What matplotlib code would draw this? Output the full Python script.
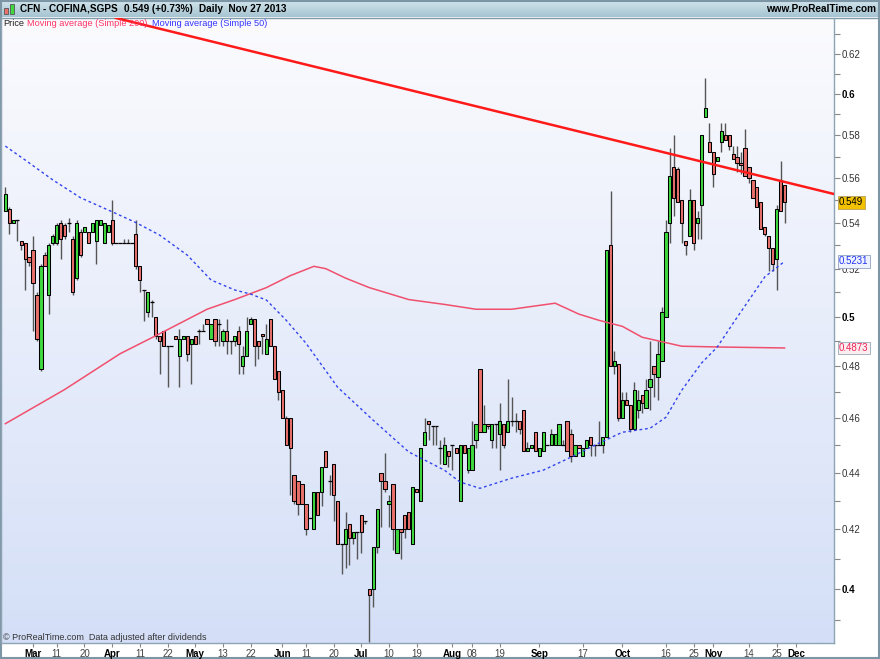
import numpy as np
import pandas as pd
import matplotlib
matplotlib.use("Agg")
import matplotlib.pyplot as plt
from matplotlib.patches import Rectangle
from matplotlib.lines import Line2D
from matplotlib.colors import LinearSegmentedColormap
from matplotlib.ticker import FixedLocator, FixedFormatter, NullFormatter

plt.rcParams["font.family"] = ["Liberation Sans", "DejaVu Sans"]

# daily candles, one per trading day from 20 Feb 2013 to 27 Nov 2013
opens = [
    .545, .546, .540, .541, .532, .531, .525, .528, .509, .479,
    .526, .509, .531, .531, .540, .539, .540, .533, .516, .536,
    .536, .536, .536, .532, .539, .531, .536, .541, .531, .531,
    .531, .531, .531, .535, .521, .511, .502, .506, .500, .492,
    .494, .488, .488, .492, .484, .491, .492, .489, .492, .494,
    .494, .499, .491, .499, .497, .490, .494, .490, .490, .494,
    .480, .484, .497, .499, .490, .493, .485, .499, .488, .478,
    .471, .460, .460, .439, .437, .436, .429, .424, .420, .433,
    .433, .448, .437, .443, .430, .415, .415, .422, .417, .419,
    .425, .423, .400, .400, .414, .440, .437, .429, .436, .412,
    .420, .425, .426, .415, .434, .430, .450, .459, .457, .457,
    .449, .443, .448, .450, .449, .430, .450, .441, .441, .452,
    .479, .455, .458, .452, .458, .454, .458, .455, .459, .459,
    .459, .463, .448, .449, .455, .446, .448, .450, .450, .450,
    .450, .450, .459, .454, .446, .450, .446, .449, .453, .450,
    .450, .450, .453, .530, .480, .481, .460, .467, .465, .456,
    .463, .469, .464, .472, .480, .476, .482, .500, .540, .565,
    .564, .550, .532, .534, .550, .540, .548, .589, .577, .572,
    .568, .577, .580, .580, .571, .570, .567, .574, .565, .559,
    .556, .549, .538, .534, .529, .524, .559, .557,
]
highs = [
    .556, .547, .541, .541, .532, .531, .525, .534, .510, .522,
    .527, .531, .535, .540, .541, .540, .542, .534, .541, .537,
    .538, .536, .540, .541, .541, .540, .539, .550, .531, .531,
    .533, .533, .531, .541, .521, .511, .510, .507, .500, .492,
    .494, .488, .488, .492, .495, .492, .492, .491, .492, .495,
    .497, .499, .497, .499, .499, .495, .499, .490, .492, .496,
    .488, .500, .500, .499, .490, .493, .497, .499, .488, .478,
    .471, .461, .460, .439, .437, .436, .429, .424, .433, .433,
    .442, .448, .439, .443, .430, .415, .426, .422, .419, .419,
    .425, .423, .400, .414, .427, .440, .447, .432, .436, .420,
    .420, .425, .426, .435, .434, .449, .460, .459, .457, .457,
    .452, .453, .448, .450, .449, .450, .450, .449, .459, .458,
    .479, .465, .458, .458, .458, .466, .458, .475, .468, .462,
    .459, .463, .451, .450, .455, .449, .455, .450, .456, .454,
    .458, .452, .459, .456, .450, .450, .449, .452, .453, .450,
    .459, .453, .528, .554, .486, .481, .470, .470, .465, .474,
    .471, .469, .475, .490, .480, .490, .504, .541, .574, .580,
    .565, .550, .532, .555, .550, .545, .580, .608, .586, .572,
    .570, .586, .586, .580, .575, .575, .572, .583, .565, .559,
    .556, .549, .538, .534, .529, .548, .568, .557,
]
lows = [
    .545, .535, .540, .532, .528, .511, .521, .494, .490, .478,
    .521, .501, .530, .530, .524, .533, .536, .509, .515, .525,
    .536, .531, .536, .522, .539, .531, .536, .530, .531, .531,
    .531, .531, .531, .520, .510, .498, .500, .500, .491, .477,
    .488, .472, .488, .491, .472, .491, .482, .473, .489, .489,
    .494, .497, .491, .488, .488, .488, .485, .485, .488, .477,
    .477, .484, .497, .480, .483, .485, .485, .488, .475, .467,
    .460, .450, .432, .429, .425, .429, .418, .424, .420, .425,
    .428, .442, .432, .423, .415, .405, .407, .408, .415, .410,
    .412, .422, .383, .394, .412, .421, .433, .421, .413, .412,
    .410, .417, .420, .415, .433, .430, .450, .452, .450, .450,
    .443, .443, .442, .441, .447, .430, .447, .440, .441, .449,
    .455, .455, .456, .449, .449, .441, .449, .455, .457, .455,
    .454, .448, .448, .449, .448, .446, .448, .450, .450, .450,
    .450, .450, .448, .444, .446, .449, .446, .449, .446, .446,
    .450, .447, .453, .480, .477, .459, .460, .465, .455, .456,
    .460, .462, .464, .463, .468, .467, .482, .500, .531, .543,
    .549, .531, .526, .534, .528, .533, .533, .589, .572, .556,
    .568, .572, .578, .573, .569, .563, .562, .561, .558, .551,
    .547, .537, .534, .519, .519, .511, .545, .540,
]
closes = [
    .553, .540, .541, .541, .530, .524, .523, .514, .491, .521,
    .521, .530, .534, .539, .533, .534, .540, .510, .540, .526,
    .538, .531, .540, .541, .541, .540, .539, .531, .531, .531,
    .531, .531, .531, .521, .515, .511, .510, .506, .492, .490,
    .488, .488, .488, .491, .491, .492, .485, .491, .489, .494,
    .494, .497, .497, .490, .497, .494, .490, .490, .492, .489,
    .484, .494, .499, .488, .488, .492, .491, .488, .475, .470,
    .460, .450, .449, .430, .429, .429, .420, .424, .433, .425,
    .442, .442, .437, .432, .415, .415, .420, .417, .419, .419,
    .419, .423, .398, .414, .427, .437, .434, .430, .420, .420,
    .419, .420, .420, .435, .433, .449, .455, .458, .457, .457,
    .449, .450, .446, .450, .447, .450, .447, .449, .450, .458,
    .455, .458, .457, .458, .458, .459, .450, .459, .459, .459,
    .456, .448, .449, .450, .448, .449, .455, .450, .454, .454,
    .458, .450, .448, .446, .450, .449, .449, .452, .450, .450,
    .450, .453, .528, .480, .482, .460, .467, .465, .456, .471,
    .467, .466, .471, .475, .477, .485, .502, .536, .561, .551,
    .549, .540, .530, .550, .531, .542, .580, .593, .572, .562,
    .570, .582, .578, .575, .569, .567, .566, .561, .560, .551,
    .547, .537, .535, .529, .522, .546, .545, .549,
]

# moving averages (candle index, value)
ma200_idx = [0, 15, 29, 39, 51, 58, 66, 72, 78, 81, 86, 92, 102, 111, 119,
             128, 139, 145, 150, 156, 161, 171, 180, 197]
ma200_val = [0.458, 0.471, 0.485, 0.493, 0.503, 0.507, 0.512, 0.517, 0.521,
             0.520, 0.516, 0.512, 0.507, 0.505, 0.503, 0.503, 0.5055, 0.501,
             0.4985, 0.496, 0.4916, 0.488, 0.4877, 0.4873]
ma50_idx = [0, 5, 12, 19, 27, 33, 39, 46, 52, 58, 62, 66, 71, 76, 84, 93,
            102, 111, 115, 120, 128, 136, 143, 150, 156, 163, 167, 171, 176,
            180, 184, 188, 192, 197]
ma50_val = [0.5749, 0.5684, 0.5592, 0.5511, 0.5448, 0.540, 0.5345, 0.5258,
            0.5152, 0.511, 0.5093, 0.5068, 0.4985, 0.4892, 0.4719, 0.4593,
            0.4475, 0.4409, 0.4366, 0.4344, 0.438, 0.4409, 0.4456, 0.4507,
            0.4548, 0.4563, 0.4604, 0.4707, 0.4813, 0.4877, 0.4973, 0.5068,
            0.5165, 0.5231]

# hand drawn trend line, two anchor points
trend_idx = [26, 209]
trend_val = [0.6395, 0.553]

tick_dates = ["2013-03-01", "2013-03-11", "2013-03-20", "2013-04-02", "2013-04-11",
              "2013-04-22", "2013-05-02", "2013-05-13", "2013-05-22", "2013-06-03",
              "2013-06-11", "2013-06-20", "2013-07-01", "2013-07-10", "2013-07-19",
              "2013-08-01", "2013-08-08", "2013-08-19", "2013-09-02", "2013-09-17",
              "2013-10-01", "2013-10-16", "2013-10-25", "2013-11-01", "2013-11-14",
              "2013-11-25", "2013-12-02"]
tick_labels = ["Mar", "11", "20", "Apr", "11", "22", "May", "13", "22", "Jun",
               "11", "20", "Jul", "10", "19", "Aug", "08", "19", "Sep", "17",
               "Oct", "16", "25", "Nov", "14", "25", "Dec"]
months = ["Mar", "Apr", "May", "Jun", "Jul", "Aug", "Sep", "Oct", "Nov", "Dec"]

y_ticks = [0.40, 0.42, 0.44, 0.46, 0.48, 0.50, 0.52, 0.54, 0.56, 0.58, 0.60, 0.62]
y_labels = ["0.4", "0.42", "0.44", "0.46", "0.48", "0.5", "0.52", "0.54",
            "0.56", "0.58", "0.6", "0.62"]
y_minor = [0.39, 0.41, 0.43, 0.45, 0.47, 0.49, 0.51, 0.53, 0.55, 0.57, 0.59, 0.61, 0.63]

# trading calendar (Euronext closed Good Friday, Easter Monday, 1 May)
days = pd.bdate_range("2013-02-20", "2013-12-10")
days = days[~days.isin(pd.to_datetime(["2013-03-29", "2013-04-01", "2013-05-01"]))]
tick_pos = days.searchsorted(pd.to_datetime(tick_dates))

W, H = 880, 659
fig = plt.figure(figsize=(W / 100, H / 100), dpi=100)
fig.patch.set_facecolor("white")


def fx(px):
    return px / W


def fy(py):
    return 1 - py / H


rect = [fx(1), fy(643), fx(834) - fx(1), fy(18) - fy(643)]
grad = np.linspace(0, 1, 256).reshape(-1, 1)

# background gradient of the price pane
bg = fig.add_axes(rect, zorder=0)
bg.imshow(grad, aspect="auto", extent=[0, 1, 0, 1], origin="upper",
          cmap=LinearSegmentedColormap.from_list("bg", ["#fbfbfe", "#d4dff7"]))
bg.axis("off")

# header bar
hd = fig.add_axes([0, fy(17), 1, 17 / H], zorder=0)
hd.imshow(grad, aspect="auto", extent=[0, 1, 0, 1], origin="upper",
          cmap=LinearSegmentedColormap.from_list("hd", ["#d3e5ec", "#a5c4d1"]))
hd.axis("off")
fig.add_artist(Line2D([0, 1], [fy(17.5)] * 2, color="#7f9aa8", lw=1))

ax = fig.add_axes(rect, zorder=2)
ax.set_facecolor("none")
ax.set_yscale("log")

o = np.array(opens)
h = np.array(highs)
l = np.array(lows)
c = np.array(closes)
x = np.arange(len(o))
lo = np.minimum(o, c)
hi = np.maximum(o, c)
up = c > o
flat = (hi - lo) < 1e-9

ax.vlines(x, l, h, color="#555555", lw=1.0, zorder=2)
colors = np.where(up, "#3fd83f", "#e8716c")
ax.bar(x[~flat], (hi - lo)[~flat], bottom=lo[~flat], width=0.82,
       color=colors[~flat], edgecolor="black", linewidth=0.75, zorder=3)
ax.hlines(lo[flat], x[flat] - 0.5, x[flat] + 0.5, color="black", lw=0.9, zorder=3)

ax.plot(ma200_idx, ma200_val, color="#f0506e", lw=1.1, zorder=4)
ax.plot(ma50_idx, ma50_val, color="#3344ee", lw=1.0, ls=(0, (2, 2)), zorder=4)
ax.axline((trend_idx[0], trend_val[0]), (trend_idx[1], trend_val[1]),
          color="#ff1a1a", lw=1.8, zorder=5)

ax.set_xlim(-1.1, 209.5)
ax.set_ylim(0.3827, 0.6385)

ax.yaxis.tick_right()
ax.yaxis.set_major_locator(FixedLocator(y_ticks))
ax.yaxis.set_major_formatter(FixedFormatter(y_labels))
ax.yaxis.set_minor_locator(FixedLocator(y_minor))
ax.yaxis.set_minor_formatter(NullFormatter())
ax.tick_params(axis="y", which="both", length=4, width=0.8, color="#888888",
               pad=1.5, labelsize=7, labelcolor="#333333")
for t, lab in zip(ax.get_yticklabels(), y_labels):
    if lab in ("0.4", "0.5", "0.6"):
        t.set_fontweight("bold")
        t.set_color("black")

ax.set_xticks(tick_pos)
ax.set_xticklabels(tick_labels)
ax.tick_params(axis="x", length=3, width=0.8, color="#888888", pad=1,
               labelsize=7, labelcolor="#444444")
for t, lab in zip(ax.get_xticklabels(), tick_labels):
    if lab in months:
        t.set_fontweight("bold")
        t.set_color("black")

ax.spines["top"].set_visible(False)
for s in ("left", "right", "bottom"):
    ax.spines[s].set_color("#8ea4b4")
    ax.spines[s].set_linewidth(1)

# last value boxes on the price axis
yt = ax.get_yaxis_transform()
ax.text(1.006, closes[-1], f"{closes[-1]:.3f}", transform=yt, fontsize=7,
        va="center", ha="left", color="black", clip_on=False, zorder=6,
        bbox=dict(boxstyle="square,pad=0.15", fc="#f2c200", ec="#b8a060", lw=0.6))
ax.text(1.006, ma50_val[-1], f"{ma50_val[-1]:.4f}", transform=yt, fontsize=7,
        va="center", ha="left", color="#2233ee", clip_on=False, zorder=6,
        bbox=dict(boxstyle="square,pad=0.15", fc="#eef2ff", ec="#8fa0c0", lw=0.6))
ax.text(1.006, ma200_val[-1], f"{ma200_val[-1]:.4f}", transform=yt, fontsize=7,
        va="center", ha="left", color="#ee2255", clip_on=False, zorder=6,
        bbox=dict(boxstyle="square,pad=0.15", fc="#fbeef1", ec="#9aaabb", lw=0.6))

# header texts and icon
fig.add_artist(Rectangle((fx(4), fy(14)), fx(4), 6 / H, transform=fig.transFigure,
                         fc="#e8716c", ec="#555555", lw=0.6))
fig.add_artist(Rectangle((fx(10), fy(14)), fx(4), 10 / H, transform=fig.transFigure,
                         fc="#3fd83f", ec="#555555", lw=0.6))
fig.text(fx(20), fy(8.5), "CFN - COFINA,SGPS", fontsize=7.2, fontweight="bold", va="center")
fig.text(fx(124), fy(8.5), "0.549 (+0.73%)", fontsize=7.2, fontweight="bold", va="center")
fig.text(fx(199), fy(8.5), "Daily  Nov 27 2013", fontsize=7.2, fontweight="bold", va="center")
fig.text(fx(876), fy(8.5), "www.ProRealTime.com", fontsize=7.2, fontweight="bold",
         va="center", ha="right")

# legend line
fig.text(fx(3), fy(23), "Price", fontsize=6.6, va="center", color="#222222")
fig.text(fx(27), fy(23), "Moving average (Simple 200)", fontsize=6.6, va="center",
         color="#ff3366")
fig.text(fx(152), fy(23), "Moving average (Simple 50)", fontsize=6.6, va="center",
         color="#3333ff")

fig.text(fx(3), fy(637), "\u00a9 ProRealTime.com  Data adjusted after dividends",
         fontsize=6.5, va="center", color="#333333")

fig.add_artist(Rectangle((0.001, 0.001), 0.998, 0.997, transform=fig.transFigure,
                         fill=False, ec="#7d96a6", lw=1.5))

fig.savefig("out.png", dpi=100)
